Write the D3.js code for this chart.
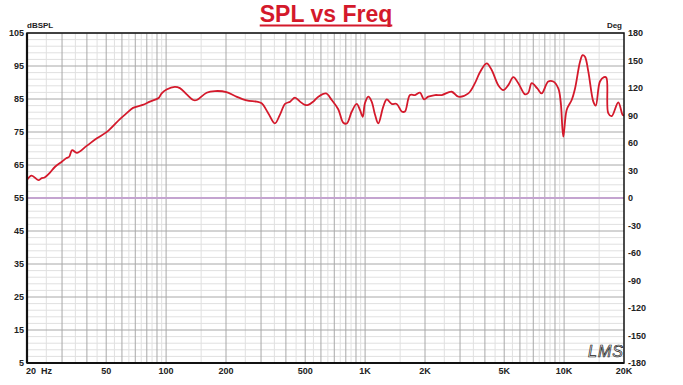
<!DOCTYPE html>
<html>
<head>
<meta charset="utf-8">
<script src="https://cdn.jsdelivr.net/npm/d3@7"></script>
<style>
  body { margin: 0; background: #fff; }
  svg text { font-family: "Liberation Sans", Arial, sans-serif; }
</style>
</head>
<body>
<svg id="chart" width="683" height="385"></svg>
<script>
// Frequency response
const freq = [20, 21.1, 22.8, 23.7, 24.5, 26.1, 27.6, 29.9, 31.6, 32.6, 33.7, 35.6, 39.9, 44.9, 50.6, 58.6,
  63.4, 68.2, 76.3, 82.9, 91.7, 95, 100.6, 110.6, 117.3, 126.9, 136.9, 142.6, 159.8, 176, 201, 222,
  254, 285, 302, 326, 352, 373, 396, 420, 444, 471, 499, 518, 549, 582, 636, 680, 733, 777, 809, 857,
  907, 942, 973, 998, 1038, 1079, 1122, 1165, 1234, 1285, 1361, 1441, 1528, 1585, 1681, 1782, 1888,
  1977, 2078, 2245, 2427, 2724, 2939, 3303, 3565, 3777, 4083, 4326, 4669, 4946, 5243, 5556, 5888,
  6366, 6612, 6875, 7334, 7712, 8326, 8823, 9350, 9613, 9909, 10303, 10917, 11350, 12025, 12392,
  12732, 13238, 14027, 14423, 15143, 15861, 16300, 16668, 17335, 18720, 19686, 20000];
const spl = [60.5, 61.8, 60.4, 61.0, 61.2, 62.7, 64.4, 66.0, 67.1, 67.5, 69.5, 68.7, 70.8, 73.1, 75.1, 78.9,
  80.7, 82.3, 83.2, 84.2, 85.3, 86.7, 87.9, 88.7, 88.3, 86.4, 84.7, 84.7, 86.9, 87.4, 87.1, 85.9,
  84.6, 84.2, 83.7, 80.7, 77.6, 80.2, 83.5, 84.2, 85.4, 84.2, 83.2, 83.2, 84.2, 85.7, 86.7, 84.7, 81.9, 77.8, 77.6, 81.2,
  83.5, 81.7, 79.6, 83.7, 85.7, 84.2, 80.2, 77.6, 82.7, 84.9, 83.5, 83.5, 81.2, 81.2, 86.2, 86.2, 86.9,
  84.9, 85.7, 86.2, 86.2, 87.2, 85.7, 86.7, 89.8, 93.1, 95.8, 93.8, 89.2, 87.7, 89.2, 91.6, 89.8,
  86.4, 86.9, 89.8, 88.2, 86.7, 90.3, 90.3, 88.2, 84.2, 73.6, 81.7, 84.7, 88.2, 96.3, 98.3,
  97.8, 93.3, 84.2, 83.0, 90.3, 91.6, 91.5, 80.7, 79.8, 84.0, 80.2, 80.0];

const splTicks = [105, 95, 85, 75, 65, 55, 45, 35, 25, 15, 5];
const degTicks = [180, 150, 120, 90, 60, 30, 0, -30, -60, -90, -120, -150, -180];
const freqLabels = [
  { f: 50, t: '50' }, { f: 100, t: '100' }, { f: 200, t: '200' }, { f: 500, t: '500' },
  { f: 1000, t: '1K' }, { f: 2000, t: '2K' }, { f: 5000, t: '5K' }, { f: 10000, t: '10K' },
  { f: 20000, t: '20K' }
];

const L = 27, R = 624, T = 33, B = 363;
const svg = d3.select('#chart');

const x = d3.scaleLog().domain([20, 20000]).range([L, R]);
const y = d3.scaleLinear().domain([5, 105]).range([B, T]);
const yDeg = d3.scaleLinear().domain([-180, 180]).range([B, T]);

// Grid: minor lines at half steps, major at each integer multiple
const minorF = [], majorF = [];
for (const dec of [10, 100, 1000, 10000]) {
  for (let m = 1; m < 10; m += 0.5) {
    const f = m * dec;
    if (f <= 20 || f >= 20000) continue;
    (Number.isInteger(m) ? majorF : minorF).push(f);
  }
}
const minorDb = d3.range(5, 105, 2).filter(v => (v - 5) % 10 !== 0);

const grid = svg.append('g');
grid.selectAll('.hmin').data(minorDb).join('line')
  .attr('x1', L).attr('x2', R).attr('y1', d => y(d)).attr('y2', d => y(d))
  .attr('stroke', '#e0e0e0').attr('stroke-width', 1);
grid.selectAll('.vmin').data(minorF).join('line')
  .attr('y1', T).attr('y2', B).attr('x1', d => x(d)).attr('x2', d => x(d))
  .attr('stroke', '#e0e0e0').attr('stroke-width', 1);
grid.selectAll('.hmaj').data(splTicks).join('line')
  .attr('x1', L).attr('x2', R).attr('y1', d => y(d)).attr('y2', d => y(d))
  .attr('stroke', '#a8a8a8').attr('stroke-width', 1);
grid.selectAll('.vmaj').data(majorF).join('line')
  .attr('y1', T).attr('y2', B).attr('x1', d => x(d)).attr('x2', d => x(d))
  .attr('stroke', '#a8a8a8').attr('stroke-width', 1);

// Phase zero line (purple)
svg.append('line')
  .attr('x1', L).attr('x2', R).attr('y1', yDeg(0)).attr('y2', yDeg(0))
  .attr('stroke', '#c4a4d0').attr('stroke-width', 2.2);

// SPL curve
const pts = freq.map((f, i) => [x(f), y(spl[i])]);
svg.append('path')
  .attr('d', d3.line().curve(d3.curveCatmullRom.alpha(0.5))(pts))
  .attr('fill', 'none').attr('stroke', '#d4192b').attr('stroke-width', 1.8)
  .attr('stroke-linejoin', 'round');

// Frame
svg.append('rect').attr('x', L).attr('y', T).attr('width', R - L).attr('height', B - T)
  .attr('fill', 'none').attr('stroke', '#111').attr('stroke-width', 1.5);
svg.append('line').attr('x1', L).attr('x2', R).attr('y1', B).attr('y2', B)
  .attr('stroke', '#111').attr('stroke-width', 2.2);
svg.append('line').attr('x1', L).attr('x2', L).attr('y1', T).attr('y2', B)
  .attr('stroke', '#111').attr('stroke-width', 2.2);

// Axis labels
const lab = svg.append('g').attr('font-size', 9).attr('font-weight', 'bold').attr('fill', '#222');
lab.selectAll('.yl').data(splTicks).join('text')
  .attr('x', L - 3).attr('y', d => y(d)).attr('dy', '0.35em').attr('text-anchor', 'end')
  .text(d => d);
lab.selectAll('.dl').data(degTicks).join('text')
  .attr('x', R + 4).attr('y', d => yDeg(d)).attr('dy', '0.35em')
  .text(d => d);
lab.selectAll('.xl').data(freqLabels).join('text')
  .attr('x', d => x(d.f)).attr('y', B + 11).attr('text-anchor', 'middle')
  .text(d => d.t);
lab.append('text').attr('x', L - 1).attr('y', B + 11).attr('xml:space', 'preserve').text('20  Hz');
lab.append('text').attr('x', L).attr('y', 28).attr('font-size', 8).text('dBSPL');
lab.append('text').attr('x', R - 2).attr('y', 28).attr('font-size', 8).attr('text-anchor', 'end').text('Deg');

// Title
const title = svg.append('text').attr('x', 326).attr('y', 21.5).attr('text-anchor', 'middle')
  .attr('font-size', 23).attr('font-weight', 'bold').attr('fill', '#d4192b')
  .text('SPL vs Freq');
const bb = title.node().getBBox();
svg.append('line').attr('x1', bb.x).attr('x2', bb.x + bb.width).attr('y1', 25.5).attr('y2', 25.5)
  .attr('stroke', '#d4192b').attr('stroke-width', 2);

// LMS mark
svg.append('text').attr('x', 588).attr('y', 357).attr('font-size', 16)
  .attr('font-family', '"DejaVu Serif", serif').attr('font-style', 'italic')
  .attr('fill', 'none').attr('stroke', '#222').attr('stroke-width', 0.7)
  .attr('letter-spacing', 1).text('LMS');
</script>
</body>
</html>
